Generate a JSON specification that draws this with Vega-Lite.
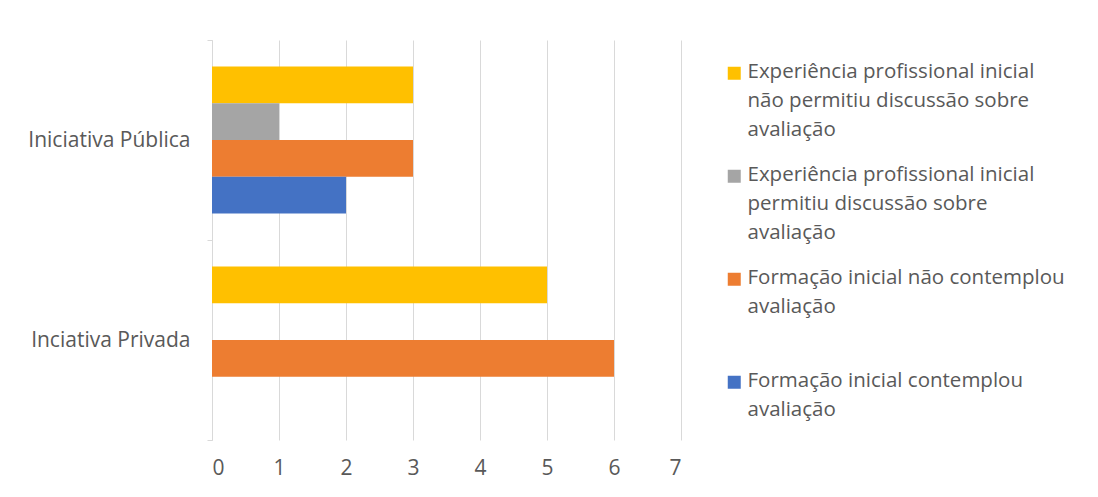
{
  "$schema": "https://vega.github.io/schema/vega-lite/v6.json",
  "width": 469,
  "height": 400,
  "padding": {"top": 29, "left": 27, "right": 5, "bottom": 5},
  "background": "white",
  "config": {"view": {"stroke": null}, "font": "Open Sans"},
  "data": {
    "values": [
      {"grupo": "Iniciativa Pública", "serie": "Experiência profissional inicial não permitiu discussão sobre avaliação", "valor": 3},
      {"grupo": "Iniciativa Pública", "serie": "Experiência profissional inicial permitiu discussão sobre avaliação", "valor": 1},
      {"grupo": "Iniciativa Pública", "serie": "Formação inicial não contemplou avaliação", "valor": 3},
      {"grupo": "Iniciativa Pública", "serie": "Formação inicial contemplou avaliação", "valor": 2},
      {"grupo": "Inciativa Privada", "serie": "Experiência profissional inicial não permitiu discussão sobre avaliação", "valor": 5},
      {"grupo": "Inciativa Privada", "serie": "Formação inicial não contemplou avaliação", "valor": 6}
    ]
  },
  "mark": {"type": "bar"},
  "encoding": {
    "y": {
      "field": "grupo",
      "type": "nominal",
      "sort": ["Iniciativa Pública", "Inciativa Privada"],
      "scale": {"paddingInner": 0, "paddingOuter": 0},
      "axis": {
        "title": null,
        "tickBand": "extent",
        "tickSize": 5,
        "tickColor": "#D9D9D9",
        "domainColor": "#D9D9D9",
        "labelFontSize": 21,
        "labelColor": "#595959",
        "labelPadding": 17,
        "grid": false
      }
    },
    "yOffset": {
      "field": "serie",
      "type": "nominal",
      "sort": [
        "Experiência profissional inicial não permitiu discussão sobre avaliação",
        "Experiência profissional inicial permitiu discussão sobre avaliação",
        "Formação inicial não contemplou avaliação",
        "Formação inicial contemplou avaliação"
      ],
      "scale": {"paddingInner": 0, "paddingOuter": 0.72}
    },
    "x": {
      "field": "valor",
      "type": "quantitative",
      "scale": {"domain": [0, 7], "nice": false},
      "axis": {
        "title": null,
        "values": [0, 1, 2, 3, 4, 5, 6, 7],
        "grid": true,
        "gridColor": "#D9D9D9",
        "domain": false,
        "ticks": false,
        "labelFontSize": 21,
        "labelColor": "#595959",
        "labelPadding": 17
      }
    },
    "color": {
      "field": "serie",
      "type": "nominal",
      "scale": {
        "domain": [
          "Experiência profissional inicial não permitiu discussão sobre avaliação",
          "Experiência profissional inicial permitiu discussão sobre avaliação",
          "Formação inicial não contemplou avaliação",
          "Formação inicial contemplou avaliação"
        ],
        "range": ["#FFC000", "#A5A5A5", "#ED7D31", "#4472C4"]
      },
      "legend": {
        "title": null,
        "orient": "right",
        "offset": 20,
        "padding": 23,
        "symbolType": "square",
        "symbolSize": 169,
        "symbolStrokeWidth": 0,
        "symbolOpacity": 1,
        "labelFontSize": 20.5,
        "labelColor": "#595959",
        "labelLimit": 400,
        "labelOffset": 3,
        "gridAlign": "all",
        "rowPadding": 24,
        "labelBaseline": "top",
        "labelExpr": "datum.label == 'Experiência profissional inicial não permitiu discussão sobre avaliação' ? ['Experiência profissional inicial', 'não permitiu discussão sobre', 'avaliação'] : datum.label == 'Experiência profissional inicial permitiu discussão sobre avaliação' ? ['Experiência profissional inicial', 'permitiu discussão sobre', 'avaliação'] : datum.label == 'Formação inicial não contemplou avaliação' ? ['Formação inicial não contemplou', 'avaliação'] : ['Formação inicial contemplou', 'avaliação']",
        "encode": {
          "labels": {"update": {"dy": {"value": -11}, "lineHeight": {"value": 29}}}
        }
      }
    }
  }
}
